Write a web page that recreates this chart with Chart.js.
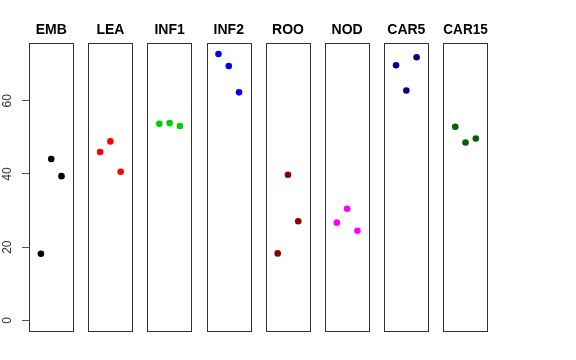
<!DOCTYPE html>
<html>
<head>
<meta charset="utf-8">
<script src="https://cdn.jsdelivr.net/npm/chart.js@4/dist/chart.umd.min.js"></script>
<style>
  html, body { margin: 0; padding: 0; background: #fff; }
  #wrap { position: relative; width: 576px; height: 360px; }
  #wrap canvas { position: absolute; left: 0; top: 0; }
</style>
</head>
<body>
<div id="wrap"></div>
<script>
// Data (3 replicates per sample)
const categories = ['EMB', 'LEA', 'INF1', 'INF2', 'ROO', 'NOD', 'CAR5', 'CAR15'];
const emb   = [18.2, 44.1, 39.4];
const lea   = [46.0, 48.9, 40.6];
const inf1  = [53.7, 53.9, 53.1];
const inf2  = [72.8, 69.5, 62.3];
const roo   = [18.3, 39.8, 27.1];
const nod   = [26.7, 30.5, 24.5];
const car5  = [69.7, 62.8, 71.9];
const car15 = [52.9, 48.6, 49.7];
const series = [emb, lea, inf1, inf2, roo, nod, car5, car15];
const colors = ['#000000', '#FF0000', '#00CD00', '#0000FF', '#8B0000', '#FF00FF', '#00008B', '#006400'];
const yTicks = [0, 20, 40, 60];

// layout of the row of panels
const W = 576, H = 360;
const firstLeft = 29, step = 59.19, panelW = 44.4;
const yMin = -2.91, yMax = 75.71;

// draws the box around each panel
const boxPlugin = {
    id: 'panelBox',
    beforeDatasetsDraw(chart) {
        const { ctx, chartArea: a } = chart;
        ctx.save();
        ctx.strokeStyle = '#333';
        ctx.lineWidth = 1;
        ctx.strokeRect(Math.round(a.left) + 0.5, Math.round(a.top) + 0.5,
            Math.round(a.right - a.left), Math.round(a.bottom - a.top));
        ctx.restore();
    }
};

const wrap = document.getElementById('wrap');

categories.forEach((name, i) => {
    const canvas = document.createElement('canvas');
    canvas.width = W;
    canvas.height = H;
    wrap.appendChild(canvas);

    const left = firstLeft + i * step;
    const right = W - (left + panelW);
    const first = i === 0;

    new Chart(canvas, {
        type: 'scatter',
        data: {
            datasets: [{
                data: series[i].map((v, j) => ({ x: j + 1, y: v })),
                backgroundColor: colors[i],
                borderColor: colors[i],
                pointRadius: 3.3,
                pointBorderWidth: 0
            }]
        },
        options: {
            responsive: false,
            animation: false,
            events: [],
            layout: {
                padding: { left: first ? 0 : left, right: right, top: 0, bottom: 29 }
            },
            plugins: {
                legend: { display: false },
                tooltip: { enabled: false },
                title: {
                    display: true,
                    text: name,
                    fullSize: false,
                    color: '#000',
                    font: { family: 'Liberation Sans, Arial, sans-serif', size: 14, weight: 'bold', lineHeight: 1.2 },
                    padding: { top: 21.9, bottom: 4.6 }
                }
            },
            scales: {
                x: {
                    type: 'linear',
                    min: -0.16,
                    max: 4.16,
                    display: false
                },
                y: {
                    type: 'linear',
                    min: yMin,
                    max: yMax,
                    display: first,
                    afterFit: s => { s.width = first ? firstLeft : 0; },
                    afterBuildTicks: s => { s.ticks = yTicks.map(v => ({ value: v })); },
                    border: { display: false },
                    grid: { drawOnChartArea: false, drawTicks: true, tickLength: 7, color: '#555' },
                    ticks: {
                        minRotation: 90,
                        maxRotation: 90,
                        crossAlign: 'center',
                        padding: 8,
                        color: '#333',
                        font: { family: 'Liberation Sans, Arial, sans-serif', size: 12 }
                    }
                }
            }
        },
        plugins: [boxPlugin]
    });
});
</script>
</body>
</html>
